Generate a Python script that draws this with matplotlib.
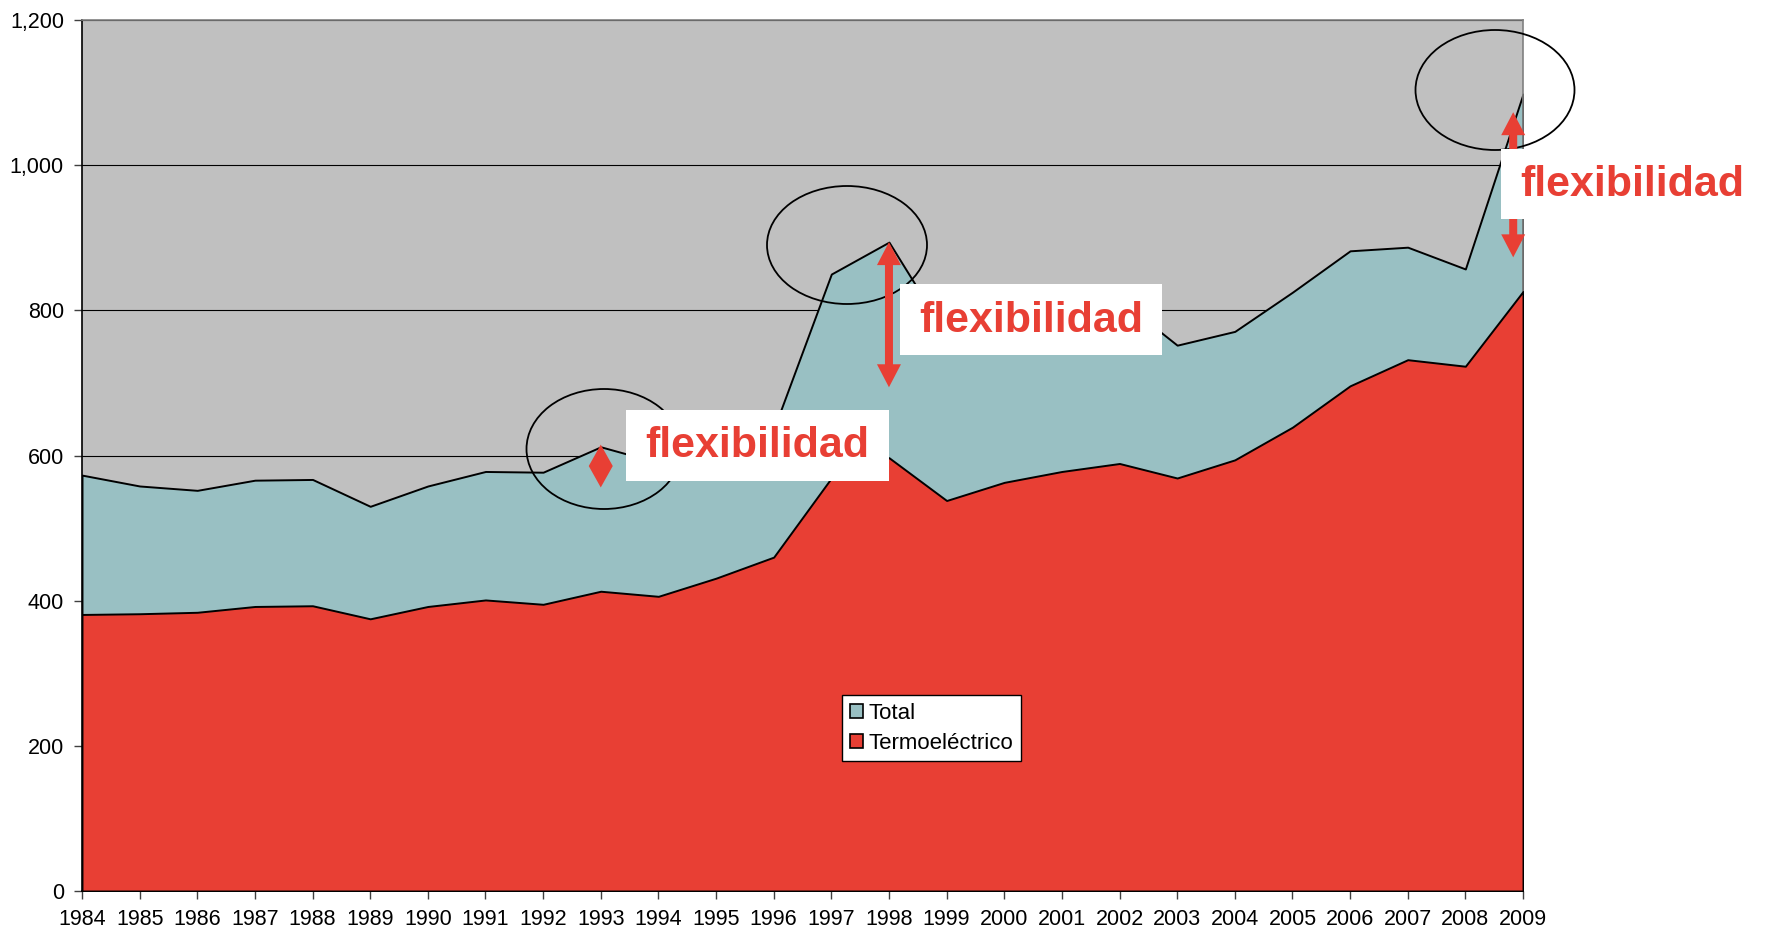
import matplotlib
matplotlib.use("Agg")
import matplotlib.pyplot as plt
from matplotlib.patches import Ellipse, Rectangle, Polygon, Patch
from matplotlib.ticker import FuncFormatter
import numpy as np

# ---------------- data ----------------
years = list(range(1984, 2010))
total = [573, 558, 552, 566, 567, 530, 558, 578, 577, 612,
         590, 610, 636, 850, 894, 766, 785, 800, 815, 752,
         771, 825, 882, 887, 857, 1098]
termo = [381, 382, 384, 392, 393, 375, 392, 401, 395, 413,
         406, 431, 460, 569, 597, 538, 563, 578, 589, 569,
         594, 639, 696, 732, 723, 826]
y_ticks = [0, 200, 400, 600, 800, 1000, 1200]
series_labels = ["Total", "Termoeléctrico"]
flex_label = "flexibilidad"
# annotation arrows: (year, bottom value, top value)
arrows = [(1993, 556, 615), (1998, 694, 894), (2008.83, 873, 1073)]

# ---------------- style ----------------
W, H = 1768, 934
GRAY = "#C0C0C0"
TEAL = "#99C0C3"
RED = "#E83F34"
plt.rcParams["font.family"] = ["Liberation Sans", "DejaVu Sans"]

fig = plt.figure(figsize=(W / 100, H / 100), dpi=100)
fig.patch.set_facecolor("white")
L, R, T, B = 82, 1523, 20, 891
ax = fig.add_axes([L / W, (H - B) / H, (R - L) / W, (B - T) / H])
ax.set_facecolor(GRAY)

x = np.array(years)
ax.fill_between(x, 0, total, facecolor=TEAL, edgecolor="black", linewidth=1.4, zorder=2)
ax.fill_between(x, 0, termo, facecolor=RED, edgecolor="black", linewidth=1.4, zorder=3)

ax.set_xlim(1984, 2009)
ax.set_ylim(0, 1200)
ax.set_xticks(years)
ax.set_xticklabels([str(y) for y in years])
ax.set_yticks(y_ticks)
ax.yaxis.set_major_formatter(FuncFormatter(lambda v, p: f"{v:,.0f}"))
ax.grid(axis="y", color="black", linewidth=0.8)
ax.set_axisbelow(True)
ax.tick_params(axis="both", direction="out", length=6, width=1, color="#404040",
               labelsize=15.5)
ax.tick_params(axis="y", pad=7)
ax.tick_params(axis="x", pad=7)
for s in ["left", "bottom"]:
    ax.spines[s].set_color("black")
    ax.spines[s].set_linewidth(1.2)
for s in ["top", "right"]:
    ax.spines[s].set_color("#808080")
    ax.spines[s].set_linewidth(1.2)

handles = [Patch(facecolor=TEAL, edgecolor="black", linewidth=1.2),
           Patch(facecolor=RED, edgecolor="black", linewidth=1.2)]
leg = ax.legend(handles, series_labels, loc="upper left",
                bbox_to_anchor=(842 / W, 1 - 695 / H), bbox_transform=fig.transFigure,
                fontsize=16, frameon=True, fancybox=False, framealpha=1,
                edgecolor="black", handlelength=0.6, handleheight=0.6,
                handletextpad=0.25, labelspacing=0.4, borderpad=0.35,
                borderaxespad=0)
leg.get_frame().set_linewidth(1.0)
leg.set_zorder(10)

# ---------------- annotations ----------------
def fx(px):
    return px / W

def fy(py):
    return 1 - py / H

# ellipses (pixel centers, sizes)
for cx, cy, ew, eh in [(604, 449, 155, 120), (847, 245, 160, 118), (1495, 90, 159, 120)]:
    e = Ellipse((fx(cx), fy(cy)), ew / W, eh / H, transform=fig.transFigure,
                facecolor="none", edgecolor="black", linewidth=1.3, zorder=2)
    fig.add_artist(e)

fig.canvas.draw()

def double_arrow(xd, ylo, yhi, hw=12, hl=23, sw=4):
    xp, yb = ax.transData.transform((xd, ylo))
    _, yt = ax.transData.transform((xd, yhi))
    if yt - yb <= 2 * hl:
        m = (yt + yb) / 2
        verts = [(xp, yt), (xp + hw, m), (xp, yb), (xp - hw, m)]
    else:
        verts = [(xp, yt), (xp + hw, yt - hl), (xp + sw, yt - hl), (xp + sw, yb + hl),
                 (xp + hw, yb + hl), (xp, yb), (xp - hw, yb + hl), (xp - sw, yb + hl),
                 (xp - sw, yt - hl), (xp - hw, yt - hl)]
    verts = np.array(verts) / fig.dpi
    p = Polygon(verts, closed=True, transform=fig.dpi_scale_trans,
                facecolor=RED, edgecolor="none", zorder=3)
    fig.add_artist(p)

for xd, lo, hi in arrows:
    double_arrow(xd, lo, hi)

# white label boxes with red bold text (pixel boxes: x0, y0, x1, y1, text center x)
for x0, y0, x1, y1, tcx in [(626, 410, 889, 481, 757), (900, 284, 1162, 355, 1031),
                            (1501, 149, 1768, 219, 1632)]:
    r = Rectangle((fx(x0), fy(y1)), (x1 - x0) / W, (y1 - y0) / H,
                  transform=fig.transFigure, facecolor="white", edgecolor="none", zorder=4)
    fig.add_artist(r)
    fig.text(fx(tcx), fy((y0 + y1) / 2 + 1), flex_label, ha="center", va="center",
             color=RED, fontsize=31, fontweight="bold", zorder=5)

fig.savefig("out.png", dpi=100)
